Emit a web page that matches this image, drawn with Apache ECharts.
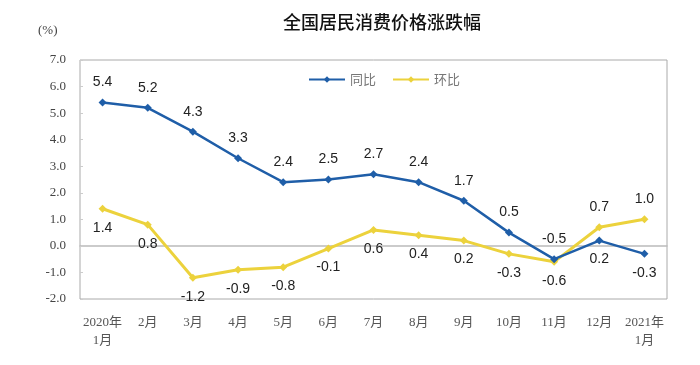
<!DOCTYPE html>
<html>
<head>
<meta charset="utf-8">
<script src="https://cdn.jsdelivr.net/npm/echarts@6/dist/echarts.min.js"></script>
<style>html,body{margin:0;padding:0;background:#fff}#c{width:700px;height:365px}</style>
</head>
<body>
<div id="c"></div>
<script>
const categories = ['2020年\n1月','2月','3月','4月','5月','6月','7月','8月','9月','10月','11月','12月','2021年\n1月'];
const yoy = [5.4, 5.2, 4.3, 3.3, 2.4, 2.5, 2.7, 2.4, 1.7, 0.5, -0.5, 0.2, -0.3];
const mom = [1.4, 0.8, -1.2, -0.9, -0.8, -0.1, 0.6, 0.4, 0.2, -0.3, -0.6, 0.7, 1.0];
const yoyBelow = [11, 12];
const momAbove = [11, 12];

const chart = echarts.init(document.getElementById('c'));
const labelFont = {fontFamily: 'Liberation Sans, Arial, sans-serif', fontSize: 14, color: '#222'};
const serif = 'Liberation Serif, Noto Sans CJK SC, serif';

function build(vals, belowTest) {
  return vals.map((v, i) => ({
    value: v,
    label: Object.assign({show: true, formatter: v.toFixed(1), position: belowTest(i) ? 'bottom' : 'top', distance: belowTest(i) ? 8 : 9}, labelFont)
  }));
}

chart.setOption({
  animation: false,
  title: {
    text: '全国居民消费价格涨跌幅', left: 377, textAlign: 'center', top: 8,
    textStyle: {fontFamily: 'Noto Sans CJK SC', fontSize: 18, fontWeight: 500, color: '#111'}
  },
  graphic: [{type: 'text', left: 38, top: 24, style: {text: '(%)', font: '13px Liberation Serif', fill: '#444'}}],
  legend: {
    left: 303, top: 68, itemWidth: 36, itemHeight: 8, itemGap: 16,
    textStyle: {fontFamily: 'Noto Sans CJK SC', fontSize: 13, color: '#777'},
    data: ['同比', '环比']
  },
  grid: {left: 80, right: 33, top: 60, bottom: 66, show: true, borderColor: '#aaa', borderWidth: 1},
  xAxis: [
    {type: 'category', data: categories, boundaryGap: true,
     axisLine: {onZero: true, lineStyle: {color: '#bbb', width: 1.5}},
     axisTick: {inside: true, length: 3, lineStyle: {color: '#bbb'}},
     axisLabel: {show: false}},
    {type: 'category', data: categories, boundaryGap: true, position: 'bottom',
     axisLine: {show: false, onZero: false}, axisTick: {show: false},
     axisLabel: {fontFamily: serif, fontSize: 13, color: '#555', margin: 15, lineHeight: 18, interval: 0}}
  ],
  yAxis: {
    type: 'value', min: -2, max: 7, interval: 1,
    axisLine: {show: false},
    axisTick: {show: true, inside: true, length: 3, lineStyle: {color: '#ccc'}},
    splitLine: {show: false},
    axisLabel: {fontFamily: serif, fontSize: 13, color: '#444', margin: 14, formatter: v => v.toFixed(1)}
  },
  series: [
    {name: '同比', type: 'line', xAxisIndex: 0, data: build(yoy, i => yoyBelow.includes(i)),
     symbol: 'diamond', symbolSize: 8, lineStyle: {color: '#1f5ea8', width: 2.5},
     itemStyle: {color: '#1f5ea8'}, z: 3},
    {name: '环比', type: 'line', xAxisIndex: 0, data: build(mom, i => !momAbove.includes(i)),
     symbol: 'diamond', symbolSize: 8, lineStyle: {color: '#ecd23c', width: 3},
     itemStyle: {color: '#ecd23c'}, z: 2}
  ]
});
</script>
</body>
</html>
